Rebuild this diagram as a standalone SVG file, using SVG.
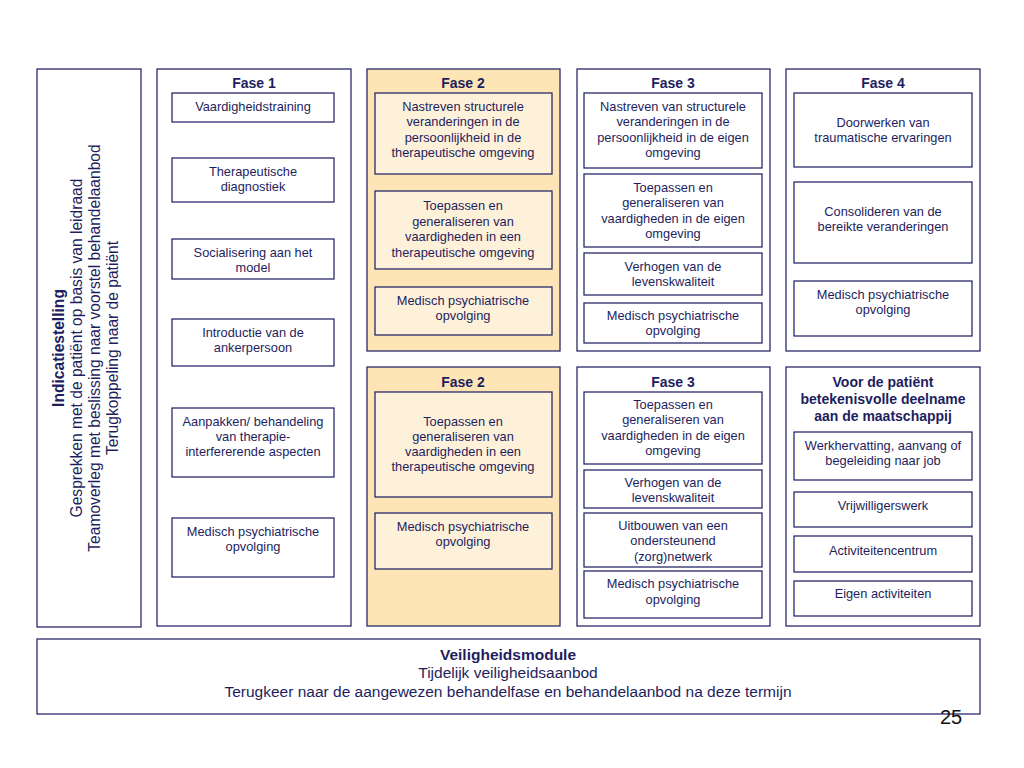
<svg xmlns="http://www.w3.org/2000/svg" width="1024" height="768" viewBox="0 0 1024 768">
<style>
.col{fill:#ffffff;stroke:#2a2a6a;stroke-width:1.3}
.colh{fill:#fde5b6;stroke:#2a2a6a;stroke-width:1.3}
.box{fill:#ffffff;stroke:#2a2a6a;stroke-width:1.3}
.boxh{fill:#fef1d9;stroke:#2a2a6a;stroke-width:1.3}
text{font-family:"Liberation Sans",Arial,sans-serif;fill:#1e1e5e;text-anchor:middle}
.t{font-size:12.8px}
.h{font-size:14px;font-weight:bold}
.side{font-size:15.6px}
.bar{font-size:15.5px}
</style>
<rect width="1024" height="768" fill="#ffffff"/>

<g id="indicatiestelling">
<rect class="col" x="37" y="69" width="104" height="558"/>
<g transform="translate(89,348) rotate(-90)">
<text class="side" x="0" y="-25" font-weight="bold">Indicatiestelling</text>
<text class="side" x="0" y="-7">Gesprekken met de patiënt op basis van leidraad</text>
<text class="side" x="0" y="11">Teamoverleg met beslissing naar voorstel behandelaanbod</text>
<text class="side" x="0" y="29">Terugkoppeling naar de patiënt</text>
</g>
</g>

<g id="fase1">
<rect class="col" x="157" y="69" width="194" height="557"/>
<text class="h" x="254" y="88">Fase 1</text>
<g id="f1-vaardigheidstraining"><rect class="box" x="172" y="93" width="162" height="29"/>
<text class="t" x="253" y="111">Vaardigheidstraining</text></g>
<g id="f1-diagnostiek"><rect class="box" x="172" y="158" width="162" height="44"/>
<text class="t" x="253" y="176">Therapeutische</text><text class="t" x="253" y="191">diagnostiek</text></g>
<g id="f1-socialisering"><rect class="box" x="172" y="239" width="162" height="40"/>
<text class="t" x="253" y="257">Socialisering aan het</text><text class="t" x="253" y="272">model</text></g>
<g id="f1-introductie"><rect class="box" x="172" y="319" width="162" height="47"/>
<text class="t" x="253" y="337">Introductie van de</text><text class="t" x="253" y="352">ankerpersoon</text></g>
<g id="f1-aanpakken"><rect class="box" x="172" y="408" width="162" height="69"/>
<text class="t" x="253" y="426">Aanpakken/ behandeling</text><text class="t" x="253" y="441">van therapie-</text><text class="t" x="253" y="456">interfererende aspecten</text></g>
<g id="f1-medisch"><rect class="box" x="172" y="518" width="162" height="59"/>
<text class="t" x="253" y="536">Medisch psychiatrische</text><text class="t" x="253" y="551">opvolging</text></g>
</g>

<g id="fase2-top">
<rect class="colh" x="367" y="69" width="193" height="282"/>
<text class="h" x="463" y="88">Fase 2</text>
<g id="f2t-nastreven"><rect class="boxh" x="375" y="93" width="177" height="81"/>
<text class="t" x="463" y="111">Nastreven structurele</text><text class="t" x="463" y="126">veranderingen in de</text><text class="t" x="463" y="142">persoonlijkheid in de</text><text class="t" x="463" y="157">therapeutische omgeving</text></g>
<g id="f2t-toepassen"><rect class="boxh" x="375" y="191" width="177" height="78"/>
<text class="t" x="463" y="210">Toepassen en</text><text class="t" x="463" y="226">generaliseren van</text><text class="t" x="463" y="241">vaardigheden in een</text><text class="t" x="463" y="257">therapeutische omgeving</text></g>
<g id="f2t-medisch"><rect class="boxh" x="375" y="287" width="177" height="48"/>
<text class="t" x="463" y="305">Medisch psychiatrische</text><text class="t" x="463" y="320">opvolging</text></g>
</g>

<g id="fase3-top">
<rect class="col" x="577" y="69" width="193" height="282"/>
<text class="h" x="673" y="88">Fase 3</text>
<g id="f3t-nastreven"><rect class="box" x="584" y="93" width="178" height="75"/>
<text class="t" x="673" y="111">Nastreven van structurele</text><text class="t" x="673" y="126">veranderingen in de</text><text class="t" x="673" y="142">persoonlijkheid in de eigen</text><text class="t" x="673" y="157">omgeving</text></g>
<g id="f3t-toepassen"><rect class="box" x="584" y="174" width="178" height="73"/>
<text class="t" x="673" y="192">Toepassen en</text><text class="t" x="673" y="207">generaliseren van</text><text class="t" x="673" y="223">vaardigheden in de eigen</text><text class="t" x="673" y="238">omgeving</text></g>
<g id="f3t-verhogen"><rect class="box" x="584" y="253" width="178" height="42"/>
<text class="t" x="673" y="271">Verhogen van de</text><text class="t" x="673" y="286">levenskwaliteit</text></g>
<g id="f3t-medisch"><rect class="box" x="584" y="303" width="178" height="40"/>
<text class="t" x="673" y="320">Medisch psychiatrische</text><text class="t" x="673" y="335">opvolging</text></g>
</g>

<g id="fase4">
<rect class="col" x="786" y="69" width="194" height="282"/>
<text class="h" x="883" y="88">Fase 4</text>
<g id="f4-doorwerken"><rect class="box" x="794" y="93" width="178" height="74"/>
<text class="t" x="883" y="127">Doorwerken van</text><text class="t" x="883" y="142">traumatische ervaringen</text></g>
<g id="f4-consolideren"><rect class="box" x="794" y="182" width="178" height="81"/>
<text class="t" x="883" y="216">Consolideren van de</text><text class="t" x="883" y="231">bereikte veranderingen</text></g>
<g id="f4-medisch"><rect class="box" x="794" y="281" width="178" height="55"/>
<text class="t" x="883" y="299">Medisch psychiatrische</text><text class="t" x="883" y="314">opvolging</text></g>
</g>

<g id="fase2-bottom">
<rect class="colh" x="367" y="367" width="193" height="259"/>
<text class="h" x="463" y="387">Fase 2</text>
<g id="f2b-toepassen"><rect class="boxh" x="375" y="392" width="177" height="105"/>
<text class="t" x="463" y="426">Toepassen en</text><text class="t" x="463" y="441">generaliseren van</text><text class="t" x="463" y="456">vaardigheden in een</text><text class="t" x="463" y="471">therapeutische omgeving</text></g>
<g id="f2b-medisch"><rect class="boxh" x="375" y="513" width="177" height="56"/>
<text class="t" x="463" y="531">Medisch psychiatrische</text><text class="t" x="463" y="546">opvolging</text></g>
</g>

<g id="fase3-bottom">
<rect class="col" x="577" y="367" width="193" height="259"/>
<text class="h" x="673" y="387">Fase 3</text>
<g id="f3b-toepassen"><rect class="box" x="584" y="392" width="178" height="72"/>
<text class="t" x="673" y="409">Toepassen en</text><text class="t" x="673" y="424">generaliseren van</text><text class="t" x="673" y="440">vaardigheden in de eigen</text><text class="t" x="673" y="455">omgeving</text></g>
<g id="f3b-verhogen"><rect class="box" x="584" y="470" width="178" height="38"/>
<text class="t" x="673" y="487">Verhogen van de</text><text class="t" x="673" y="502">levenskwaliteit</text></g>
<g id="f3b-uitbouwen"><rect class="box" x="584" y="513" width="178" height="54"/>
<text class="t" x="673" y="530">Uitbouwen van een</text><text class="t" x="673" y="545">ondersteunend</text><text class="t" x="673" y="561">(zorg)netwerk</text></g>
<g id="f3b-medisch"><rect class="box" x="584" y="571" width="178" height="47"/>
<text class="t" x="673" y="588">Medisch psychiatrische</text><text class="t" x="673" y="604">opvolging</text></g>
</g>

<g id="maatschappij">
<rect class="col" x="786" y="367" width="194" height="259"/>
<text class="h" x="883" y="387">Voor de patiënt</text>
<text class="h" x="883" y="404">betekenisvolle deelname</text>
<text class="h" x="883" y="421">aan de maatschappij</text>
<g id="m-werk"><rect class="box" x="794" y="432" width="178" height="48"/>
<text class="t" x="883" y="450">Werkhervatting, aanvang of</text><text class="t" x="883" y="465">begeleiding naar job</text></g>
<g id="m-vrijwilligers"><rect class="box" x="794" y="492" width="178" height="35"/>
<text class="t" x="883" y="510">Vrijwilligerswerk</text></g>
<g id="m-activiteitencentrum"><rect class="box" x="794" y="536" width="178" height="36"/>
<text class="t" x="883" y="555">Activiteitencentrum</text></g>
<g id="m-eigen"><rect class="box" x="794" y="581" width="178" height="35"/>
<text class="t" x="883" y="598">Eigen activiteiten</text></g>
</g>

<g id="veiligheidsmodule">
<rect class="col" x="37" y="639" width="943" height="75"/>
<text class="bar" x="508" y="660" font-weight="bold">Veiligheidsmodule</text>
<text class="bar" x="508" y="678">Tijdelijk veiligheidsaanbod</text>
<text class="bar" x="508" y="697">Terugkeer naar de aangewezen behandelfase en behandelaanbod na deze termijn</text>
</g>

<g id="connectors"></g>

<text x="951" y="724" style="font-size:20px;fill:#111111">25</text>
</svg>
